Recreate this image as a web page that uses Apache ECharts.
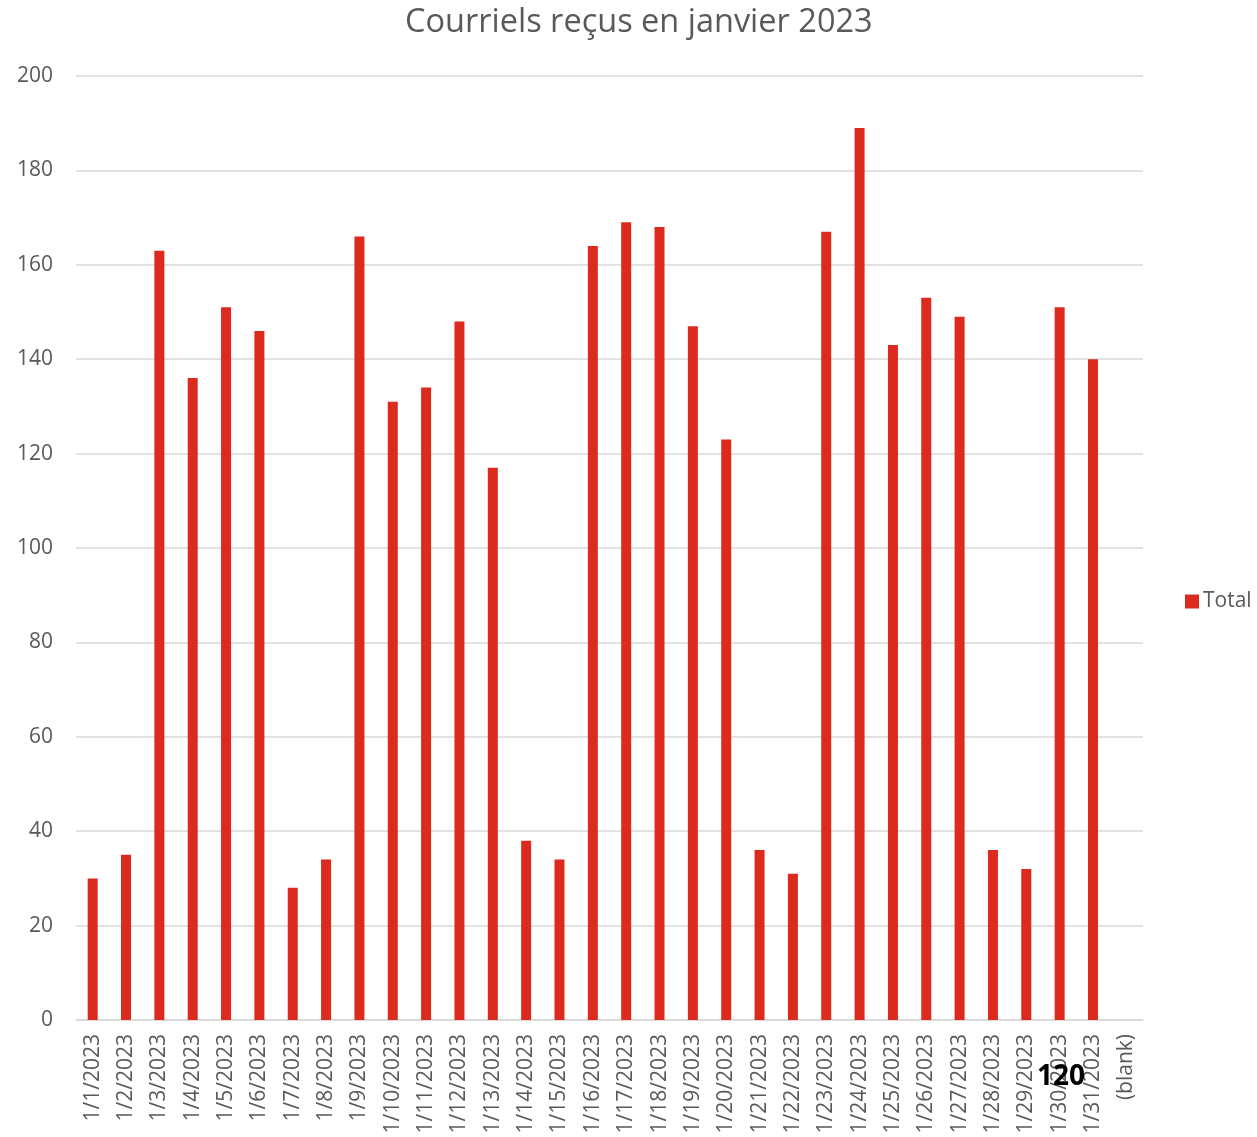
<!DOCTYPE html>
<html>
<head>
<meta charset="utf-8">
<script src="https://cdn.jsdelivr.net/npm/echarts@6/dist/echarts.min.js"></script>
<style>
  html, body { margin: 0; padding: 0; background: #fff; }
  #chart { width: 1257px; height: 1137px; }
</style>
</head>
<body>
<div id="chart"></div>
<script>
// Daily email counts for January 2023
const categories = [
  '1/1/2023','1/2/2023','1/3/2023','1/4/2023','1/5/2023','1/6/2023','1/7/2023','1/8/2023',
  '1/9/2023','1/10/2023','1/11/2023','1/12/2023','1/13/2023','1/14/2023','1/15/2023','1/16/2023',
  '1/17/2023','1/18/2023','1/19/2023','1/20/2023','1/21/2023','1/22/2023','1/23/2023','1/24/2023',
  '1/25/2023','1/26/2023','1/27/2023','1/28/2023','1/29/2023','1/30/2023','1/31/2023','(blank)'
];
const totals = [
  30, 35, 163, 136, 151, 146, 28, 34,
  166, 131, 134, 148, 117, 38, 34, 164,
  169, 168, 147, 123, 36, 31, 167, 189,
  143, 153, 149, 36, 32, 151, 140, null
];
const yTicks = { min: 0, max: 200, interval: 20 };

const font = '"Open Sans", "Noto Sans", sans-serif';
const chart = echarts.init(document.getElementById('chart'), null, { renderer: 'canvas' });
chart.setOption({
  backgroundColor: '#ffffff',
  animation: false,
  title: {
    text: 'Courriels reçus en janvier 2023',
    left: 405,
    top: 6,
    padding: 0,
    textStyle: { fontFamily: font, fontSize: 32.5, fontWeight: 'normal', color: '#595959' }
  },
  legend: {
    data: ['Total'],
    orient: 'vertical',
    left: 1185,
    top: 591,
    padding: 0,
    itemWidth: 14,
    itemHeight: 14,
    itemGap: 4,
    icon: 'rect',
    textStyle: { fontFamily: font, fontSize: 21, color: '#595959', padding: [0, 0, 0, -1] }
  },
  grid: { left: 76, right: 114, top: 76, bottom: 117, containLabel: false },
  xAxis: {
    type: 'category',
    data: categories,
    axisLine: { lineStyle: { color: '#d9d9d9', width: 1.5 } },
    axisTick: { show: false },
    axisLabel: {
      rotate: 90,
      interval: 0,
      margin: 14,
      fontFamily: font,
      fontSize: 21,
      color: '#595959'
    }
  },
  yAxis: {
    type: 'value',
    min: yTicks.min,
    max: yTicks.max,
    interval: yTicks.interval,
    axisLine: { show: false },
    axisTick: { show: false },
    splitLine: { lineStyle: { color: '#d9d9d9', width: 1.5 } },
    axisLabel: { margin: 23, fontFamily: font, fontSize: 21, color: '#595959' }
  },
  series: [{
    name: 'Total',
    type: 'bar',
    data: totals,
    barWidth: 10,
    itemStyle: { color: '#dc2a1f' }
  }],
  graphic: [{
    type: 'text',
    left: 1037,
    top: 1063,
    z: 100,
    style: {
      text: '120',
      font: 'bold 28px ' + font,
      fill: '#000000'
    }
  }]
});
</script>
</body>
</html>
